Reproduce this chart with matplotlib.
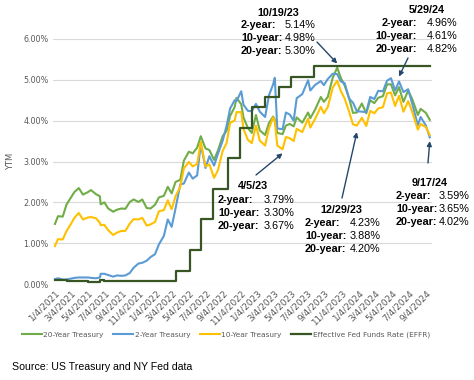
import matplotlib
matplotlib.use('Agg')
import matplotlib.pyplot as plt
import pandas as pd

# semi-monthly readings of the daily yield curves (percent)
dates = ['2021-01-04', '2021-01-15', '2021-02-01', '2021-02-15', '2021-03-01', '2021-03-15',
         '2021-03-31', '2021-04-15', '2021-05-03', '2021-05-14', '2021-06-01', '2021-06-15',
         '2021-06-18', '2021-07-01', '2021-07-15', '2021-08-02', '2021-08-16', '2021-09-01',
         '2021-09-15', '2021-10-01', '2021-10-15', '2021-11-01', '2021-11-15', '2021-12-01',
         '2021-12-15', '2021-12-31', '2022-01-14', '2022-02-01', '2022-02-15', '2022-03-01',
         '2022-03-15', '2022-04-01', '2022-04-14', '2022-05-02', '2022-05-16', '2022-06-01',
         '2022-06-14', '2022-07-01', '2022-07-15', '2022-08-01', '2022-08-15', '2022-09-01',
         '2022-09-15', '2022-09-28', '2022-10-14', '2022-10-21', '2022-11-07', '2022-11-15',
         '2022-12-01', '2022-12-15', '2022-12-30', '2023-01-13', '2023-02-01', '2023-02-15',
         '2023-03-02', '2023-03-08', '2023-03-17', '2023-04-05', '2023-04-17', '2023-05-01',
         '2023-05-15', '2023-05-26', '2023-06-15', '2023-07-06', '2023-07-14', '2023-08-01',
         '2023-08-21', '2023-09-01', '2023-09-15', '2023-10-03', '2023-10-19', '2023-11-01',
         '2023-11-15', '2023-12-01', '2023-12-15', '2023-12-29', '2024-01-16', '2024-02-01',
         '2024-02-15', '2024-03-01', '2024-03-15', '2024-04-01', '2024-04-16', '2024-04-30',
         '2024-05-15', '2024-05-29', '2024-06-14', '2024-07-01', '2024-07-15', '2024-08-05',
         '2024-08-15', '2024-09-03', '2024-09-17']

y2 = [0.12, 0.14, 0.11, 0.11, 0.13, 0.15, 0.16, 0.16, 0.16, 0.15, 0.14, 0.16,
      0.25, 0.25, 0.22, 0.18, 0.21, 0.20, 0.21, 0.27, 0.40, 0.50, 0.52, 0.57,
      0.66, 0.73, 0.97, 1.18, 1.58, 1.40, 1.85, 2.44, 2.46, 2.73, 2.58, 2.66,
      3.43, 2.84, 3.13, 2.90, 3.19, 3.51, 3.87, 4.30, 4.50, 4.48, 4.72, 4.39,
      4.24, 4.23, 4.41, 4.22, 4.09, 4.62, 4.89, 5.05, 3.81, 3.79, 4.20, 4.15,
      4.00, 4.55, 4.65, 4.99, 4.74, 4.88, 4.97, 4.87, 5.02, 5.15, 5.14, 4.96,
      4.92, 4.54, 4.44, 4.23, 4.22, 4.21, 4.58, 4.53, 4.73, 4.72, 4.98, 5.04,
      4.74, 4.96, 4.70, 4.77, 4.43, 3.89, 4.09, 3.88, 3.59]

y10 = [0.93, 1.10, 1.09, 1.30, 1.45, 1.62, 1.74, 1.58, 1.63, 1.64, 1.61, 1.50,
       1.44, 1.45, 1.32, 1.20, 1.26, 1.30, 1.30, 1.48, 1.59, 1.58, 1.62, 1.43,
       1.46, 1.52, 1.78, 1.81, 2.05, 1.83, 2.15, 2.38, 2.83, 2.99, 2.88, 2.94,
       3.48, 2.88, 2.93, 2.60, 2.79, 3.26, 3.45, 3.95, 4.00, 4.21, 4.21, 3.80,
       3.53, 3.45, 3.88, 3.51, 3.39, 3.81, 4.08, 3.98, 3.39, 3.30, 3.60, 3.57,
       3.50, 3.80, 3.72, 4.05, 3.83, 4.05, 4.34, 4.18, 4.33, 4.81, 4.98, 4.73,
       4.54, 4.22, 3.91, 3.88, 4.07, 3.87, 4.24, 4.18, 4.30, 4.33, 4.67, 4.69,
       4.36, 4.61, 4.22, 4.48, 4.23, 3.78, 3.92, 3.84, 3.65]

y20 = [1.47, 1.66, 1.65, 1.95, 2.10, 2.25, 2.35, 2.19, 2.25, 2.30, 2.20, 2.15,
       1.95, 2.00, 1.85, 1.77, 1.82, 1.85, 1.84, 2.01, 2.07, 2.01, 2.07, 1.86,
       1.85, 1.94, 2.12, 2.16, 2.38, 2.22, 2.50, 2.55, 3.02, 3.24, 3.20, 3.34,
       3.62, 3.32, 3.28, 3.04, 3.27, 3.62, 3.75, 4.12, 4.33, 4.56, 4.40, 4.08,
       3.82, 3.70, 4.14, 3.76, 3.65, 3.94, 4.10, 4.02, 3.70, 3.67, 3.88, 3.92,
       3.86, 4.08, 3.95, 4.20, 4.06, 4.28, 4.58, 4.46, 4.58, 5.05, 5.30, 5.05,
       4.86, 4.55, 4.19, 4.20, 4.42, 4.18, 4.50, 4.43, 4.56, 4.60, 4.89, 4.89,
       4.62, 4.82, 4.46, 4.74, 4.54, 4.14, 4.29, 4.19, 4.02]

# effective fed funds rate: dates where it changed
effr_dates = ['2021-01-04', '2021-02-16', '2021-03-11', '2021-05-04', '2021-06-17', '2021-07-01',
              '2022-03-17', '2022-05-05', '2022-06-16', '2022-07-28', '2022-09-22', '2022-11-03',
              '2022-12-15', '2023-02-02', '2023-03-23', '2023-05-04', '2023-07-27', '2024-09-17']
effr = [0.09, 0.08, 0.07, 0.06, 0.10, 0.08, 0.33, 0.83, 1.58, 2.33, 3.08, 3.83,
        4.33, 4.58, 4.83, 5.08, 5.33, 5.33]

tick_labels = ['1/4/2021', '3/4/2021', '5/4/2021', '7/4/2021', '9/4/2021', '11/4/2021',
               '1/4/2022', '3/4/2022', '5/4/2022', '7/4/2022', '9/4/2022', '11/4/2022',
               '1/4/2023', '3/4/2023', '5/4/2023', '7/4/2023', '9/4/2023', '11/4/2023',
               '1/4/2024', '3/4/2024', '5/4/2024', '7/4/2024', '9/4/2024']

# annotation boxes: date, (2y, 10y, 20y)
notes = [('10/19/23', ('5.14%', '4.98%', '5.30%')),
         ('5/29/24', ('4.96%', '4.61%', '4.82%')),
         ('4/5/23', ('3.79%', '3.30%', '3.67%')),
         ('12/29/23', ('4.23%', '3.88%', '4.20%')),
         ('9/17/24', ('3.59%', '3.65%', '4.02%'))]
note_levels = [5.40, 5.08, 3.20, 3.72, 3.50]

C20, C2, C10, CF = '#70ad47', '#5b9bd5', '#ffc000', '#375623'
ARROW = '#24476b'

W, H = 474, 380
fig = plt.figure(figsize=(W / 100, H / 100), dpi=100)
ax = fig.add_axes([53 / W, 1 - 284 / H, (432 - 53) / W, (284 - 39) / H])

d = pd.to_datetime(dates)
ax.plot(d, y20, color=C20, lw=1.5, label='20-Year Treasury')
ax.plot(d, y2, color=C2, lw=1.5, label='2-Year Treasury')
ax.plot(d, y10, color=C10, lw=1.5, label='10-Year Treasury')
ax.plot(pd.to_datetime(effr_dates), effr, color=CF, lw=1.6, drawstyle='steps-post',
        label='Effective Fed Funds Rate (EFFR)')

ax.set_xlim(pd.Timestamp('2020-12-28'), pd.Timestamp('2024-09-25'))
ax.set_ylim(0, 6)
ax.set_yticks([0, 1, 2, 3, 4, 5, 6])
ax.set_yticklabels(['%.2f%%' % v for v in range(7)], fontsize=5.8, color='#595959')
ticks = pd.to_datetime(tick_labels, format='%m/%d/%Y')
ax.set_xticks(ticks)
ax.set_xticklabels(tick_labels, rotation=45, ha='right', rotation_mode='anchor',
                   fontsize=6.4, color='#595959')
ax.tick_params(length=0, pad=3)
ax.grid(axis='y', color='#d9d9d9', lw=0.8)
ax.set_axisbelow(True)
for s in ax.spines.values():
    s.set_visible(False)
ax.set_ylabel('YTM', fontsize=6, color='#595959', labelpad=6)

# text blocks (figure pixel positions measured from the reference)
# (title x, title y, label x, value x, first line y)
layout = [(278, 13, 241, 285, 25),
          (427, 10, 417, 427, 23),
          (253, 186, 218, 264, 200),
          (341, 210, 305, 350, 223),
          (430, 183, 396, 439, 196)]
tails = [(317, 42), (408, 58), (256, 175), (342, 198), (428, 163)]
fs = 7.8
for (title, vals), (tx, ty, lx, vx, ly), lvl, tail in zip(notes, layout, note_levels, tails):
    fig.text(tx / W, 1 - ty / H, title, ha='center', va='center', fontsize=fs,
             fontweight='bold', family='Liberation Sans')
    right = title == '5/29/24'
    for i, (lab, v) in enumerate(zip(['2-year:', '10-year:', '20-year:'], vals)):
        yy = 1 - (ly + 13 * i) / H
        fig.text(lx / W, yy, lab, ha='right' if right else 'left', va='center', fontsize=fs,
                 fontweight='bold', family='Liberation Sans')
        fig.text(vx / W, yy, v, ha='left', va='center', fontsize=fs, family='Liberation Sans')
    dt = pd.Timestamp(pd.to_datetime(title, format='%m/%d/%y'))
    ax.annotate('', xy=(dt, lvl), xycoords='data',
                xytext=(tail[0] / W, 1 - tail[1] / H), textcoords='figure fraction',
                arrowprops=dict(arrowstyle='-|>', color=ARROW, lw=1, mutation_scale=7,
                                shrinkA=0, shrinkB=0))

fig.legend(loc='center', bbox_to_anchor=(226 / W, 1 - 335 / H), ncol=4, frameon=False,
           fontsize=5.3, handlelength=2.7, columnspacing=1.3, handletextpad=0.2,
           labelcolor='#595959')

fig.text(12 / W, 1 - 367 / H, 'Source: US Treasury and NY Fed data', fontsize=7.6,
         family='Liberation Sans', va='center', ha='left')

fig.savefig('out.png', dpi=100)
